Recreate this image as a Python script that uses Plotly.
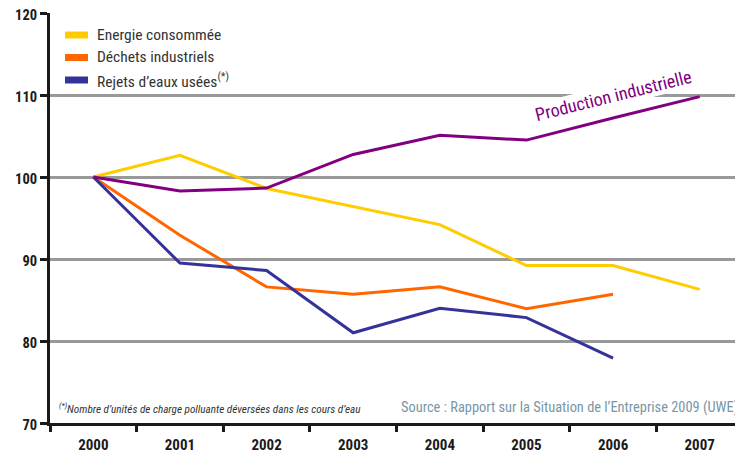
import plotly.graph_objects as go

years = [2000, 2001, 2002, 2003, 2004, 2005, 2006, 2007]
energie = [100, 102.65, 98.6, 96.4, 94.2, 89.2, 89.2, 86.3]
dechets = [100, 92.9, 86.6, 85.7, 86.6, 83.95, 85.7]
rejets = [100, 89.5, 88.6, 81.0, 84.0, 82.85, 77.9]
production = [100, 98.3, 98.65, 102.75, 105.1, 104.5, 107.2, 109.8]

names = ["Energie consommée", "Déchets industriels", "Rejets d’eaux usées<sup>(*)</sup>"]
colors = ["#FFCC00", "#FF6600", "#333399"]
prod_color = "#800080"
y_ticks = [70, 80, 90, 100, 110, 120]

COND = "Roboto Condensed, DejaVu Sans Condensed, Roboto, sans-serif"

# page body has an 8px margin: figure coordinates are shifted accordingly
L, T, W, H = 42, 5, 735, 446
PW, PH = W - L, 410  # plot area size


def px(x):  # screenshot x -> paper
    return (x - 8 - L) / PW


def py(y):  # screenshot y -> paper
    return (T + PH - (y - 8)) / PH


fig = go.Figure()
for vals, c in zip([energie, dechets, rejets], colors):
    fig.add_trace(go.Scatter(x=years[:len(vals)], y=vals, mode="lines",
                             line=dict(color=c, width=3), showlegend=False,
                             hoverinfo="skip"))
fig.add_trace(go.Scatter(x=years, y=production, mode="lines",
                         line=dict(color=prod_color, width=3), showlegend=False,
                         hoverinfo="skip"))

for i, (n, c) in enumerate(zip(names, colors)):
    yc = 35 + i * 22.5
    fig.add_shape(type="rect", xref="paper", yref="paper",
                  x0=px(65), x1=px(88), y0=py(yc + 3.5), y1=py(yc - 3.5),
                  fillcolor=c, line=dict(width=0))
    fig.add_annotation(text=n, xref="paper", yref="paper",
                       x=px(95), y=py(yc),
                       xanchor="left", yanchor="middle", showarrow=False,
                       font=dict(family=COND, size=15.5, color="#333333"))

fig.add_annotation(text="Production industrielle", x=2006.0, y=110.0,
                   textangle=-14, showarrow=False, bgcolor="white", borderpad=0,
                   font=dict(family=COND, size=18, color=prod_color))

fig.add_annotation(text="<sup>(*)</sup>Nombre d’unités de charge polluante déversées dans les cours d’eau",
                   xref="paper", yref="paper", x=px(57), y=py(408),
                   xanchor="left", yanchor="middle", showarrow=False,
                   font=dict(family=COND, size=11.2, color="#333333", style="italic"))
fig.add_annotation(text="Source : Rapport sur la Situation de l’Entreprise 2009 (UWE)",
                   xref="paper", yref="paper", x=px(740), y=py(407),
                   xanchor="right", yanchor="middle", showarrow=False,
                   font=dict(family=COND, size=14.4, color="#7896A6"))

fig.update_layout(
    width=W, height=H,
    margin=dict(l=L, r=0, t=T, b=H - T - PH),
    paper_bgcolor="white", plot_bgcolor="white",
    xaxis=dict(range=[1999.5, 2007.5], tickmode="array", tickvals=years,
               ticktext=[str(y) for y in years], automargin=False,
               ticklabeloverflow="allow",
               ticks="outside", ticklen=6, tickcolor="rgba(0,0,0,0)",
               showgrid=False, zeroline=False,
               showline=True, linecolor="#1a1a1a", linewidth=3,
               tickfont=dict(family=COND, size=15, color="#1a1a1a", weight="bold"),
               minor=dict(tick0=1999.5, dtick=1, ticks="outside", ticklen=6,
                          tickwidth=3, tickcolor="#1a1a1a", showgrid=False)),
    yaxis=dict(range=[70, 120], tickmode="array", tickvals=y_ticks, automargin=False,
               ticklabeloverflow="allow", ticklabelshift=2,
               ticks="outside", ticklen=7, tickwidth=3, tickcolor="#1a1a1a",
               showgrid=True, gridcolor="#999999", gridwidth=2.5,
               zeroline=False, showline=True, linecolor="#1a1a1a", linewidth=3,
               tickfont=dict(family=COND, size=14.5, color="#1a1a1a", weight="bold")),
)

fig.write_html("out.html")
